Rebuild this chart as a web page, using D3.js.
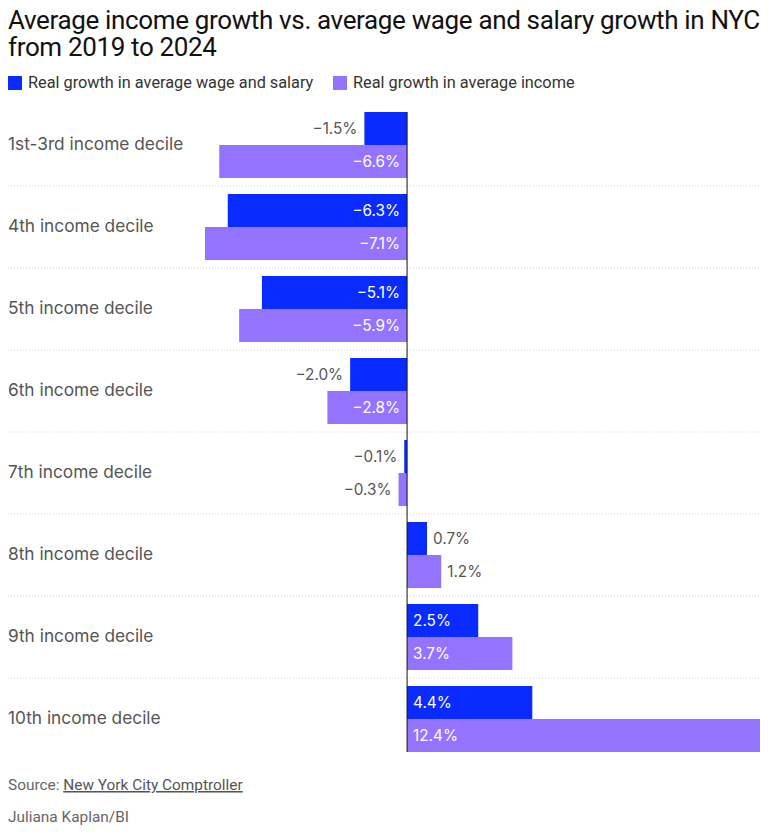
<!DOCTYPE html>
<html lang="en">
<head>
  <meta charset="UTF-8" />
  <title>Average income growth vs. average wage and salary growth in NYC</title>
  <script src="https://d3js.org/d3.v7.min.js"></script>
  <style>
    body { margin: 0; background: #fff; }
    .title { font-family: "Roboto", sans-serif; font-size: 26px; fill: #111; }
    .legend-label { font-family: "Roboto", sans-serif; font-size: 16.3px; fill: #333; }
    .cat-label { font-family: "Inter", "Noto Sans", sans-serif; font-size: 17.3px; fill: #555; }
    .val-label { font-family: "Inter", "Noto Sans", sans-serif; font-size: 15.3px; }
    .foot { font-family: "Roboto", sans-serif; font-size: 15.4px; fill: #666; }
  </style>
</head>
<body>
  <div id="chart"></div>
  <script>
    const categories = [
      "1st-3rd income decile", "4th income decile", "5th income decile", "6th income decile",
      "7th income decile", "8th income decile", "9th income decile", "10th income decile"
    ];
    const seriesNames = ["Real growth in average wage and salary", "Real growth in average income"];
    const wageGrowth = [-1.5, -6.3, -5.1, -2.0, -0.1, 0.7, 2.5, 4.4];
    const incomeGrowth = [-6.6, -7.1, -5.9, -2.8, -0.3, 1.2, 3.7, 12.4];
    const colors = ["#0a2bff", "#9474ff"];

    const width = 768, height = 833;
    const svg = d3.select("#chart").append("svg")
      .attr("width", width).attr("height", height);

    // title, squeezed a bit so the first line ends near the right edge like the original
    const title = svg.append("text").attr("class", "title");
    const line1 = title.append("tspan").attr("x", 8).attr("y", 29)
      .text("Average income growth vs. average wage and salary growth in NYC");
    title.append("tspan").attr("x", 8).attr("y", 56).text("from 2019 to 2024");
    const nChars = line1.text().length;
    const ls = (752 - line1.node().getComputedTextLength()) / nChars;
    title.attr("letter-spacing", ls.toFixed(2));

    // legend
    const legendX = [8, 333];
    seriesNames.forEach((name, i) => {
      svg.append("rect").attr("x", legendX[i]).attr("y", 76)
        .attr("width", 14).attr("height", 14).attr("fill", colors[i]);
      svg.append("text").attr("class", "legend-label")
        .attr("x", legendX[i] + 20).attr("y", 88).text(name);
    });

    const rows = categories.map((c, i) => ({ cat: c, vals: [wageGrowth[i], incomeGrowth[i]] }));
    const allVals = wageGrowth.concat(incomeGrowth);

    const x = d3.scaleLinear()
      .domain([d3.min(allVals), d3.max(allVals)])
      .range([205, 760]);

    const y = d3.scaleBand().domain(categories).range([104, 760]).paddingInner(0);
    const ySub = d3.scaleBand().domain([0, 1])
      .range([8, y.bandwidth() - 8]);

    // dotted separators between groups
    categories.slice(1).forEach(c => {
      svg.append("line")
        .attr("x1", 8).attr("x2", 760)
        .attr("y1", y(c)).attr("y2", y(c))
        .attr("stroke", "#d0d0d0").attr("stroke-width", 1)
        .attr("stroke-dasharray", "1,2");
    });

    const g = svg.selectAll(".row").data(rows).enter().append("g")
      .attr("transform", d => `translate(0,${y(d.cat)})`);

    g.append("text").attr("class", "cat-label")
      .attr("x", 8).attr("y", y.bandwidth() / 2 + 5)
      .text(d => d.cat);

    const fmt = v => (v < 0 ? "\u2212" : "") + Math.abs(v).toFixed(1) + "%";

    g.each(function (d) {
      const row = d3.select(this);
      d.vals.forEach((v, i) => {
        const x0 = x(Math.min(0, v)), x1 = x(Math.max(0, v));
        const w = x1 - x0;
        row.append("rect")
          .attr("x", x0).attr("y", ySub(i))
          .attr("width", w).attr("height", ySub.bandwidth())
          .attr("fill", colors[i]);
        // label goes inside the bar only when it fits
        const inside = w > 65;
        let tx, anchor;
        if (v < 0) {
          tx = inside ? x(0) - 7 : x0 - 7;
          anchor = "end";
        } else {
          tx = inside ? x(0) + 6 : x1 + 6;
          anchor = "start";
        }
        row.append("text").attr("class", "val-label")
          .attr("x", tx).attr("y", ySub(i) + ySub.bandwidth() / 2 + 5)
          .attr("text-anchor", anchor)
          .attr("fill", inside ? "#fff" : "#555")
          .text(fmt(v));
      });
    });

    // zero line
    svg.append("line")
      .attr("x1", x(0)).attr("x2", x(0))
      .attr("y1", y(categories[0]) + 8).attr("y2", 752)
      .attr("stroke", "#111").attr("stroke-width", 1);

    // footer
    const src = svg.append("text").attr("class", "foot").attr("x", 8).attr("y", 790);
    src.append("tspan").text("Source: ");
    src.append("tspan").attr("text-decoration", "underline").attr("fill", "#555")
      .text("New York City Comptroller");
    svg.append("text").attr("class", "foot").attr("x", 8).attr("y", 822).text("Juliana Kaplan/BI");
  </script>
</body>
</html>
